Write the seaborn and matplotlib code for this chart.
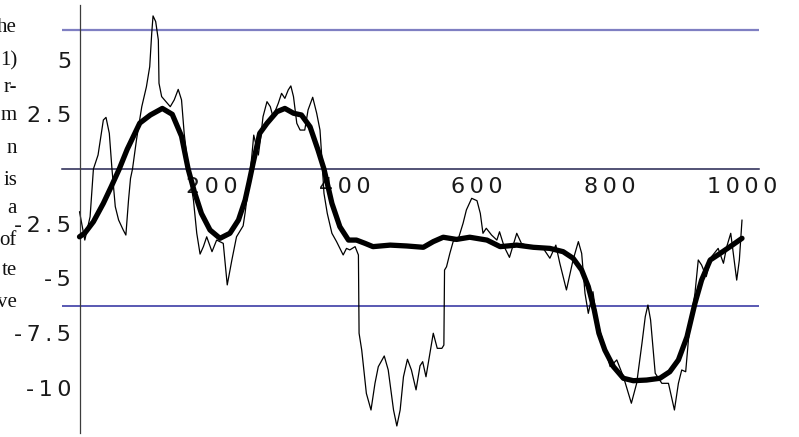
import numpy as np
import pandas as pd
import seaborn as sns
import matplotlib
matplotlib.use("Agg")
import matplotlib.pyplot as plt
from matplotlib.ticker import FixedLocator, FixedFormatter

# raw (thin) signal
raw_x = [0, 8, 16, 21, 28, 36, 40, 45, 49, 54, 59, 66, 70, 74, 77, 80, 86, 94, 101, 106,
         109, 111, 115, 119, 120, 124, 137, 143, 149, 154, 158, 164, 172, 177, 182, 187,
         192, 200, 207, 217, 223, 230, 237, 247, 250, 255, 260, 263, 267, 270, 273, 277,
         283, 288, 292, 300, 305, 310, 315, 319, 323, 328, 333, 340, 345, 352, 358, 363,
         366, 369, 374, 381, 388, 398, 403, 408, 416, 421, 422, 426, 433, 440, 446, 451,
         460, 466, 474, 479, 484, 489, 495, 501, 508, 514, 518, 523, 529, 534, 540, 547,
         550, 551, 554, 559, 564, 572, 579, 584, 592, 600, 605, 609, 614, 622, 630, 634,
         641, 649, 660, 667, 680, 700, 710, 719, 725, 735, 745, 753, 758, 763, 768, 775,
         781, 791, 801, 811, 821, 833, 841, 849, 854, 858, 862, 869, 879, 889, 898, 904,
         909, 915, 920, 929, 934, 939, 946, 954, 964, 972, 977, 983, 992, 996, 1000]
raw_y = [-1.95, -3.25, -2.18, 0.0, 0.64, 2.24, 2.36, 1.63, 0.0, -1.72, -2.33, -2.79, -3.02,
         -1.42, -0.43, 0.0, 1.33, 2.85, 3.76, 4.68, 6.2, 7.0, 6.74, 5.9, 3.92, 3.31, 2.85,
         3.16, 3.64, 3.16, 1.63, 0.1, -1.42, -2.94, -3.89, -3.55, -3.1, -3.78, -3.25, -3.4,
         -5.3, -4.16, -3.1, -2.6, -2.0, -0.81, 0.56, 1.55, 1.02, 0.64, 1.33, 2.39, 3.08,
         2.85, 2.39, 3.0, 3.46, 3.23, 3.61, 3.8, 3.31, 2.09, 1.78, 1.78, 2.7, 3.28, 2.55,
         1.78, 0.41, -1.11, -2.03, -2.94, -3.32, -3.93, -3.63, -3.7, -3.55, -3.93, -7.51,
         -8.28, -10.26, -11.02, -9.8, -9.04, -8.55, -9.19, -11.02, -11.75, -11.02, -9.5,
         -8.7, -9.19, -10.1, -9.0, -8.81, -9.5, -8.43, -7.51, -8.2, -8.2, -8.05, -4.62,
         -4.47, -3.86, -3.32, -3.17, -2.48, -1.87, -1.34, -1.45, -2.03, -2.94, -2.71, -3.02,
         -3.25, -2.87, -3.55, -4.04, -2.94, -3.4, -3.55, -3.63, -4.08, -3.48, -4.31, -5.53,
         -4.16, -3.32, -3.86, -5.68, -6.6, -5.61, -6.9, -7.97, -9.04, -8.73, -9.5, -10.71,
         -9.8, -7.97, -6.75, -6.22, -6.9, -9.34, -9.8, -9.8, -11.02, -9.8, -9.19, -9.27,
         -7.51, -5.68, -4.16, -4.39, -4.92, -4.01, -3.63, -4.31, -3.55, -2.94, -5.08, -4.16,
         -2.33]

# smoothed (thick) signal
smooth_x = [0, 8, 21, 36, 48, 60, 72, 91, 107, 125, 140, 154, 164, 173, 184, 197, 212, 227,
            240, 250, 256, 262, 272, 283, 298, 310, 323, 335, 348, 360, 369, 381, 393, 406,
            418, 431, 443, 469, 494, 519, 534, 549, 569, 589, 615, 635, 660, 685, 710, 730,
            745, 758, 768, 777, 784, 793, 806, 821, 836, 856, 876, 891, 904, 917, 929, 939,
            952, 967, 982, 1000]
smooth_y = [-3.1, -2.93, -2.41, -1.57, -0.8, 0.0, 0.9, 2.1, 2.47, 2.77, 2.5, 1.5, 0.0, -1.0,
            -2.03, -2.79, -3.17, -2.94, -2.33, -1.42, -0.6, 0.26, 1.63, 2.09, 2.62, 2.77,
            2.55, 2.47, 1.93, 0.87, 0.0, -1.57, -2.64, -3.25, -3.25, -3.4, -3.55, -3.48,
            -3.52, -3.58, -3.32, -3.12, -3.22, -3.12, -3.25, -3.55, -3.48, -3.58, -3.63,
            -3.78, -4.08, -4.62, -5.38, -6.45, -7.51, -8.28, -9.04, -9.57, -9.68, -9.65,
            -9.57, -9.27, -8.73, -7.67, -6.14, -5.08, -4.16, -3.86, -3.55, -3.17]

# threshold levels
upper_level = 6.37
lower_level = -6.27

x_ticks = [200, 400, 600, 800, 1000]
x_labels = ["2\u20090\u20090", "4\u20090\u20090", "6\u20090\u20090", "8\u20090\u20090",
            "1\u20090\u20090\u20090"]
x_minor = [50, 100, 150, 250, 300, 350, 450, 500, 550, 650, 700, 750, 850, 900, 950]
y_ticks = [-10, -7.5, -5, -2.5, 2.5, 5]
y_labels = ["-\u20091\u20090", "-\u20097\u2009.\u20095", "-\u20095", "-\u20092\u2009.\u20095",
            "2\u2009.\u20095", "5"]
y_minor = [v for v in np.arange(-12, 7.51, 0.5) if v not in y_ticks and v != 0]

# cut-off words of the surrounding page text
margin_words = ["he", "1)", "r-", "m", "n", "is", "a", "of", "te", "ve"]
margin_rows = [32, 65, 92, 120, 153, 185, 213, 245, 275, 307]

sns.set_style("white")
plt.rcParams['font.family'] = ['DejaVu Sans']

W, H = 799, 437
fig = plt.figure(figsize=(W / 100, H / 100), dpi=100)
ax = fig.add_axes([0, 0, 1, 1])
ax.patch.set_alpha(0)

x0, sx = 79.5, 0.6625
y0, sy = 169.0, 21.87
ax.set_xlim(-x0 / sx, (W - x0) / sx)
ax.set_ylim((y0 - H) / sy, y0 / sy)

x_lo, x_hi = (62 - x0) / sx, (759 - x0) / sx

ax.hlines(upper_level, x_lo, x_hi, color="#7f7fc2", lw=1.6, zorder=1)
ax.hlines(lower_level, x_lo, x_hi, color="#2b2b9e", lw=1.1, zorder=1)

raw = pd.DataFrame({"t": raw_x, "v": raw_y})
smooth = pd.DataFrame({"t": smooth_x, "v": smooth_y})
sns.lineplot(data=raw, x="t", y="v", estimator=None, sort=False, color="black",
             lw=0.9, ax=ax, zorder=2)
sns.lineplot(data=smooth, x="t", y="v", estimator=None, sort=False, color="black",
             lw=3.8, ax=ax, zorder=3, solid_capstyle="round", solid_joinstyle="round")

for s in ["top", "right"]:
    ax.spines[s].set_visible(False)
ax.spines["left"].set_position(("data", 0))
ax.spines["bottom"].set_position(("data", 0))
ax.spines["left"].set_bounds((y0 - 433) / sy, (y0 - 5) / sy)
ax.spines["bottom"].set_bounds(x_lo, x_hi)
ax.spines["left"].set_color("#3c3c3c")
ax.spines["left"].set_linewidth(0.9)
ax.spines["bottom"].set_color("#23234f")
ax.spines["bottom"].set_linewidth(1.1)
ax.spines["bottom"].set_zorder(1)

ax.xaxis.set_major_locator(FixedLocator(x_ticks))
ax.xaxis.set_major_formatter(FixedFormatter(x_labels))
ax.xaxis.set_minor_locator(FixedLocator(x_minor))
ax.yaxis.set_major_locator(FixedLocator(y_ticks))
ax.yaxis.set_major_formatter(FixedFormatter(y_labels))
ax.yaxis.set_minor_locator(FixedLocator(y_minor))

ax.tick_params(axis="x", which="major", direction="in", length=3.0, width=0.7,
               color="#23234f", pad=6, labelsize=16, labelcolor="#1a1a1a")
ax.tick_params(axis="x", which="minor", direction="in", length=2.0, width=0.7,
               color="#23234f")
ax.tick_params(axis="y", which="major", direction="in", length=3.0, width=0.7,
               color="#3c3c3c", pad=6, labelsize=16, labelcolor="#1a1a1a")
ax.tick_params(axis="y", which="minor", direction="in", length=2.2, width=0.7,
               color="#3c3c3c")
ax.set_xlabel("")
ax.set_ylabel("")

for word, row in zip(margin_words, margin_rows):
    fig.text(17 / W, 1 - row / H, word, ha="right", va="baseline",
             family=["Liberation Serif", "DejaVu Serif"], fontsize=15, color="#111111")

fig.savefig("out.png", dpi=100)
